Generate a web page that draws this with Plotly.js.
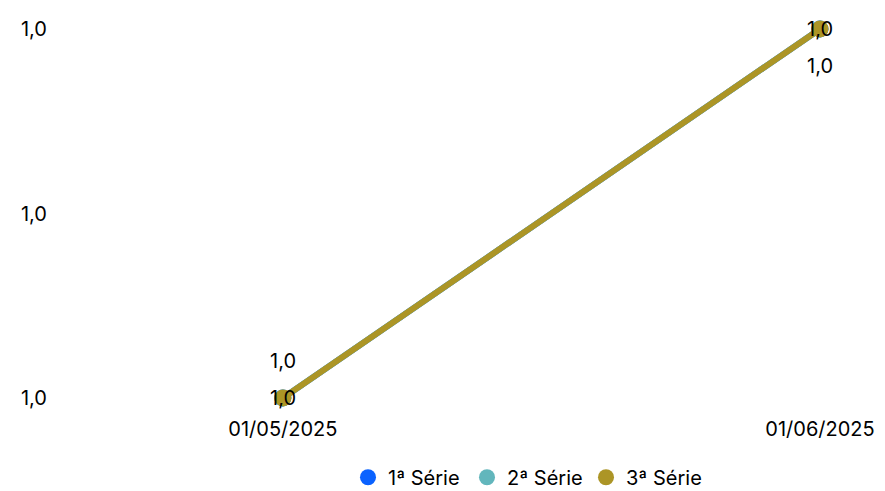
<!DOCTYPE html>
<html><head><meta charset="utf-8">
<script src="https://cdn.plot.ly/plotly-3.0.1.min.js"></script>
<style>html,body{margin:0;padding:0;background:#fff}#chart{width:885px;height:491px}</style>
</head><body><div id="chart"></div>
<script>
const categories = ["01/05/2025", "01/06/2025"];
const seriesNames = ["1ª Série", "2ª Série", "3ª Série"];
const serie1 = [1.00, 1.02];
const serie2 = [1.00, 1.02];
const serie3 = [1.00, 1.02];
const colors = ["#0A62FF", "#62B6BC", "#AC9526"];
const allSeries = [serie1, serie2, serie3];

const FONT = "Inter, 'Liberation Sans', Arial, sans-serif";
const FS = 20;
const traces = [];
allSeries.forEach((vals, i) => {
  traces.push({
    type: "scatter", mode: "lines+markers", x: categories, y: vals,
    line: {color: colors[i], width: 6}, marker: {color: colors[i], size: 17},
    showlegend: false, cliponaxis: false, hoverinfo: "skip"
  });
});
allSeries.forEach((vals, i) => {
  traces.push({
    type: "scatter", mode: "markers", x: [null], y: [null], name: seriesNames[i],
    marker: {color: colors[i], size: 20}, showlegend: true
  });
});
const fmt = v => v.toFixed(1).replace(".", ",");
const annotations = [];
serie1.forEach((v, j) => {
  annotations.push({x: categories[j], y: v, text: fmt(v), showarrow: false,
    yshift: j === 0 ? 37 : -37, font: {family: FONT, size: FS, color: "#000"}});
});
serie3.forEach((v, j) => {
  annotations.push({x: categories[j], y: v, text: fmt(v), showarrow: false,
    yshift: 0, font: {family: FONT, size: FS, color: "#000"}});
});

const layout = {
  width: 885, height: 491,
  margin: {l: 60, r: 65, t: 29, b: 93, autoexpand: false},
  paper_bgcolor: "#fff", plot_bgcolor: "#fff",
  separators: ",.",
  font: {family: FONT, size: FS, color: "#000"},
  showlegend: true,
  legend: {orientation: "h", x: 0, xref: "paper", xanchor: "left",
    yref: "container", y: 0.028, yanchor: "middle",
    font: {family: FONT, size: FS, color: "#000"}, itemwidth: 30, tracegroupgap: 0,
    entrywidth: 74, entrywidthmode: "pixels"},
  xaxis: {type: "category", range: [-0.415, 1], showgrid: false, zeroline: false,
    showline: false, ticks: "", ticklabelstandoff: 17, tickfont: {family: FONT, size: FS}},
  yaxis: {range: [1.00, 1.02], tickvals: [1.00, 1.01, 1.02], tickformat: ".1f",
    showgrid: false, zeroline: false, showline: false, ticks: "",
    ticklabelstandoff: 12, tickfont: {family: FONT, size: FS}},
  annotations: annotations
};
layout.legend.x = (348 - 60) / 760;
Plotly.newPlot("chart", traces, layout, {displayModeBar: false, staticPlot: true});
</script></body></html>
